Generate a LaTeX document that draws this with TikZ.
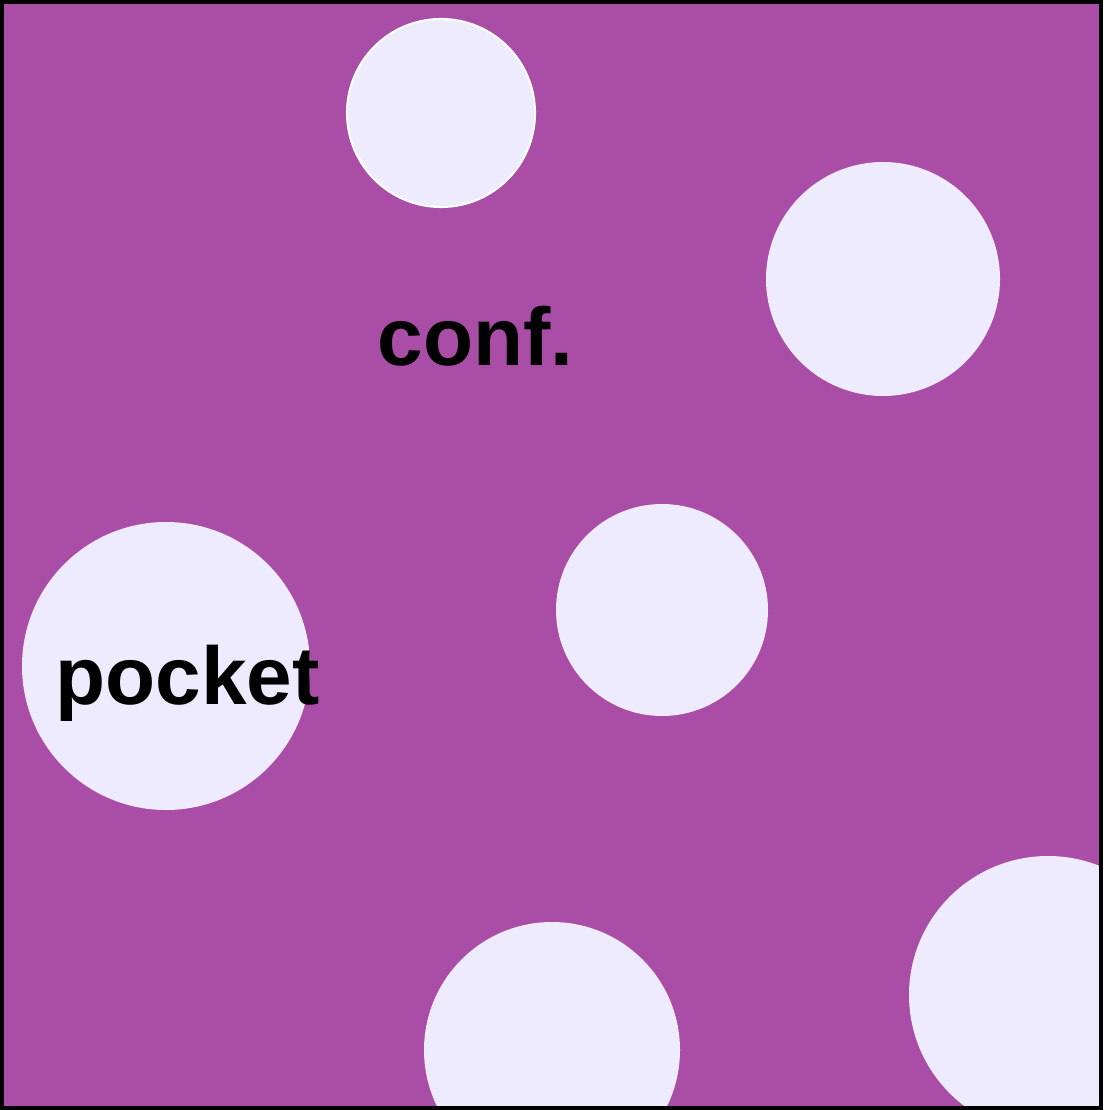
\documentclass[tikz,border=0pt]{standalone}
\usepackage{fontspec}
\setmainfont{Liberation Sans}
\definecolor{slabPurple}{HTML}{AA4DA6}
\definecolor{holeLav}{HTML}{EDEBFD}
\tikzset{
  hole/.style={fill=holeLav},
  word/.style={anchor=base west,inner sep=0pt,font=\fontsize{23.3}{28}\selectfont\bfseries,text=black},
}

\begin{document}
\begin{tikzpicture}[x=0.01cm,y=-0.01cm]
    \useasboundingbox (0,0) rectangle (1103,1110);
    % --- slab
    \fill[slabPurple] (0,0) rectangle (1103,1110);
    \begin{scope}
      \clip (0,0) rectangle (1103,1110);
      \foreach \cx/\cy/\r in {441/113/94, 883/279/117, 662/610/106,
                              166/666/144, 552/1050/128, 1048/995/139}
        \fill[hole] (\cx,\cy) circle[radius=\r];
      \draw[white,line width=0.6pt] (441,113) circle[radius=94];
    \end{scope}
    % --- labels
    \node[word] (conf)   at (377,366) {conf.};
    \node[word] (pocket) at (55,704)  {pocket};
    % --- frame
    \draw[black,line width=1.2pt] (2,2) rectangle (1101,1108);
  \end{tikzpicture}
\end{document}
